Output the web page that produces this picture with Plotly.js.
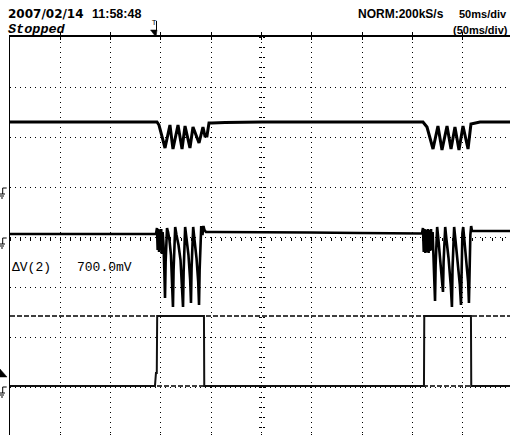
<!DOCTYPE html>
<html><head><meta charset="utf-8">
<script src="https://cdn.plot.ly/plotly-3.0.1.min.js"></script>
<style>html,body{margin:0;padding:0;overflow:hidden;background:#fff}#chart{width:513px;height:437px}</style>
</head><body><div id="chart"></div><script>
// ---- data (time in ms from left edge, level in divisions from screen centre) ----
var ch1Time = [0,49.7,99.4,146.1,148.1,151.1,154.1,159.0,162.0,167.0,171.0,174.0,178.9,181.9,187.9,191.8,193.8,195.8,197.8,200.8,213.7,250.5,298.2,347.9,397.6,410.5,414.5,417.5,420.5,425.4,429.4,434.4,438.4,442.3,446.3,450.3,455.3,458.2,465.2,467.2,500];
var ch1Level = [2.30,2.30,2.31,2.30,2.24,2.02,1.78,2.24,1.76,2.24,1.76,2.22,1.78,2.20,1.88,2.20,2.02,2.02,2.28,2.28,2.29,2.30,2.30,2.31,2.30,2.30,2.20,1.98,1.76,2.22,1.74,2.22,1.76,2.20,1.74,2.22,1.76,2.26,2.28,2.30,2.30];

var ch2Time = [0,49.7,99.4,139.2,145.1,146.1,146.8,147.5,148.2,148.9,149.6,150.3,151.0,151.7,152.6,153.4,154.1,154.7,155.4,156.1,157.1,158.5,160.0,161.3,162.0,162.6,163.4,164.2,165.5,167.5,169.5,171.2,172.0,172.6,173.4,174.1,175.4,177.4,179.1,179.9,180.5,181.3,182.1,183.4,185.4,187.1,187.9,188.5,189.3,190.1,191.3,192.3,193.3,194.8,203.8,250.5,298.2,347.9,397.6,409.5,410.5,411.3,412.1,412.9,413.7,414.5,415.3,416.1,416.9,417.7,418.5,419.3,420.1,421.1,421.8,422.5,423.1,423.8,424.6,425.9,427.7,429.6,430.4,431.0,431.8,432.6,433.9,435.9,438.1,439.3,439.9,440.7,441.5,442.8,444.8,447.1,448.3,448.9,449.7,450.5,451.8,453.6,455.4,456.2,456.8,457.6,458.4,459.2,467.2,500];
var ch2Level = [0.06,0.06,0.06,0.06,0.06,0.18,-0.26,0.16,-0.30,0.14,-0.26,0.16,-0.34,0.10,-0.16,-0.66,-1.22,-0.50,-0.02,0.18,0.10,-0.06,-0.36,-0.86,-1.40,-0.66,0.02,0.20,0.04,-0.16,-0.46,-0.96,-1.40,-0.70,0.02,0.20,-0.02,-0.36,-0.86,-1.32,-0.62,0.06,0.20,-0.06,-0.42,-0.90,-1.36,-0.66,0.02,0.22,0.04,0.22,0.14,0.10,0.10,0.10,0.09,0.08,0.08,0.07,0.18,-0.30,0.16,-0.32,0.14,-0.30,0.16,-0.32,0.14,-0.28,0.16,-0.26,0.10,-0.46,-0.86,-1.28,-0.56,0.02,0.20,-0.06,-0.42,-0.82,-1.10,-0.50,0.06,0.20,-0.06,-0.42,-0.96,-1.40,-0.62,0.06,0.20,-0.06,-0.42,-0.94,-1.36,-0.58,0.08,0.20,-0.06,-0.42,-0.90,-1.32,-0.54,0.04,0.22,0.12,0.12,0.12];

var ch3Time = [0,144.1,145.1,145.9,146.3,192.8,193.1,411.5,411.8,458.2,458.5,500];
var ch3Level = [-2.98,-2.98,-2.72,-2.72,-1.58,-1.58,-2.98,-2.98,-1.58,-1.58,-2.98,-2.98];

var cursorLevels = [-1.58, -2.98];
var dateText = "2007/02/14";
var timeText = "11:58:48";
var sampleText = "NORM:200kS/s";
var divText = "50ms/div";
var zoomDivText = "(50ms/div)";
var statusText = "Stopped";
var cursorLabel = "\u0394V(2)";
var cursorValue = "700.0mV";

// ---- helpers for decorations placed in pixel terms ----
function X(px){ return (px-10)/503; }
function Y(py){ return (437-py)/400; }

var traces = [
  {x: ch1Time, y: ch1Level, mode:'lines', line:{color:'#000', width:3}, hoverinfo:'skip'},
  {x: ch2Time, y: ch2Level, mode:'lines', line:{color:'#000', width:2.6}, hoverinfo:'skip'},
  {x: ch3Time, y: ch3Level, mode:'lines', line:{color:'#111', width:2}, hoverinfo:'skip'},
  {x: ch3Time, y: ch3Level, xaxis:'x2', yaxis:'y', mode:'none', hoverinfo:'skip'},
  {x: ch3Time, y: ch3Level, xaxis:'x', yaxis:'y2', mode:'none', hoverinfo:'skip'},
  {x: ch3Time, y: ch3Level, xaxis:'x', yaxis:'y3', mode:'none', hoverinfo:'skip'}
];

function gnd(p){
  return 'M'+X(6.7)+','+Y(p)+' L'+X(2.7)+','+Y(p)+' L'+X(2.7)+','+Y(p+6)+
         ' M'+X(0)+','+Y(p+6)+' L'+X(5)+','+Y(p+6)+
         ' M'+X(0)+','+Y(p+8)+' L'+X(4)+','+Y(p+8)+
         ' M'+X(1)+','+Y(p+10)+' L'+X(3)+','+Y(p+10);
}

var shapes = cursorLevels.map(function(v){
  return {type:'line', xref:'paper', yref:'y', x0:0, x1:1, y0:v, y1:v, line:{color:'#000', width:1.3, dash:'5px,2px'}, layer:'below'};
});
[188, 238, 387].forEach(function(p){
  shapes.push({type:'path', xref:'paper', yref:'paper', path:gnd(p), line:{color:'#000', width:1}});
});
shapes.push({type:'path', xref:'paper', yref:'paper', path:'M'+X(0)+','+Y(369)+' L'+X(0)+','+Y(377)+' L'+X(7)+','+Y(377)+' Z', fillcolor:'#000', line:{color:'#000', width:0.5}});
shapes.push({type:'path', xref:'paper', yref:'paper', path:'M'+X(150.5)+','+Y(30)+' L'+X(157)+','+Y(30)+' L'+X(156)+','+Y(37)+' Z', fillcolor:'#000', line:{color:'#000', width:0.5}});
shapes.push({type:'line', xref:'paper', yref:'paper', x0:X(156.5), x1:X(156.5), y0:Y(21), y1:Y(31), line:{color:'#000', width:1}});

function ann(text, px, py, font){
  return {text:text, xref:'paper', yref:'paper', x:X(px), y:Y(py), xanchor:'left', yanchor:'middle', showarrow:false, font:font, borderpad:0};
}
var sansB = function(sz){ return {family:'Liberation Sans, Arial, sans-serif', size:sz, color:'#000', weight:'bold'}; };
var annotations = [
  ann(dateText, 7, 14, {family:'DejaVu Sans, sans-serif', size:12, color:'#000', weight:'bold'}),
  ann(timeText, 91, 14, sansB(12.5)),
  ann(sampleText, 357, 14, sansB(12)),
  ann(divText, 458, 14, sansB(11)),
  ann(zoomDivText, 452, 30, sansB(11)),
  ann(statusText, 7, 30, {family:'Liberation Mono, DejaVu Sans Mono, monospace', size:13.5, color:'#000', weight:'bold', style:'italic'}),
  ann(cursorLabel, 11, 267, {family:'Liberation Mono, DejaVu Sans Mono, monospace', size:13, color:'#000'}),
  ann(cursorValue, 76, 267, {family:'Liberation Mono, DejaVu Sans Mono, monospace', size:13, color:'#000'}),
  ann('T', 150, 23, {family:'DejaVu Sans, sans-serif', size:7, color:'#000'})
];

var grid = {showgrid:true, gridcolor:'#000', gridwidth:1, griddash:'1px,4px', zeroline:false, showticklabels:false};
var layout = {
  width:513, height:437,
  margin:{l:10, r:0, t:37, b:0, pad:0},
  paper_bgcolor:'#fff', plot_bgcolor:'#fff',
  showlegend:false,
  xaxis: Object.assign({range:[0,500], tick0:0, dtick:50, showline:true, linecolor:'#000', linewidth:2, mirror:'allticks', ticks:'inside', ticklen:3, tickcolor:'#000', tickwidth:1}, grid),
  yaxis: Object.assign({range:[-4,4], tick0:0, dtick:1, showline:true, linecolor:'#000', linewidth:1.5, mirror:true, ticks:''}, grid),
  xaxis2: {overlaying:'x', anchor:'free', position:0.5, range:[0,500], tick0:0, dtick:10, ticks:'outside', ticklen:3, tickwidth:1, tickcolor:'#000', showgrid:false, showline:false, zeroline:false, showticklabels:false, side:'bottom'},
  yaxis2: {overlaying:'y', anchor:'free', position:0.5, range:[-4,4], tick0:0, dtick:0.2, ticks:'outside', ticklen:2.5, tickwidth:1, tickcolor:'#000', showgrid:false, showline:false, zeroline:false, showticklabels:false, side:'left'},
  yaxis3: {overlaying:'y', anchor:'free', position:0.5, range:[-4,4], tick0:0, dtick:0.2, ticks:'outside', ticklen:2.5, tickwidth:1, tickcolor:'#000', showgrid:false, showline:false, zeroline:false, showticklabels:false, side:'right'},
  shapes: shapes,
  annotations: annotations
};
Plotly.newPlot('chart', traces, layout, {staticPlot:true, displayModeBar:false});
</script></body></html>
